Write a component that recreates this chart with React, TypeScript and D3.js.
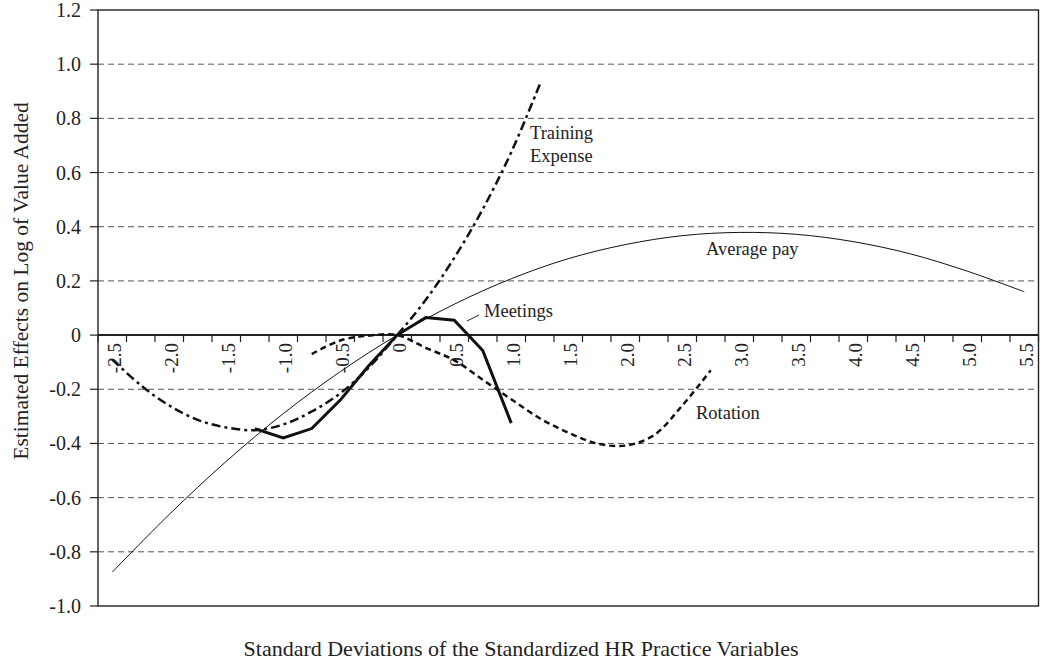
import React from "react";
import * as d3 from "d3";

const yTicks = [1.2, 1.0, 0.8, 0.6, 0.4, 0.2, 0, -0.2, -0.4, -0.6, -0.8, -1.0];
const yTickLabels = ["1.2", "1.0", "0.8", "0.6", "0.4", "0.2", "0", "-0.2", "-0.4", "-0.6", "-0.8", "-1.0"];
const xLabelVals = [-2.5, -2, -1.5, -1, -0.5, 0, 0.5, 1, 1.5, 2, 2.5, 3, 3.5, 4, 4.5, 5, 5.5];
const xTickLabels = ["-2.5", "-2.0", "-1.5", "-1.0", "-0.5", "0", "0.5", "1.0", "1.5", "2.0", "2.5", "3.0", "3.5", "4.0", "4.5", "5.0", "5.5"];

const avgPayX = [-2.5, -2, -1.5, -1, -0.5, 0, 0.5, 1, 1.5, 2, 2.5, 3, 3.5, 4, 4.5, 5, 5.5];
const avgPayY = [-0.875, -0.662, -0.466, -0.29, -0.135, 0, 0.114, 0.208, 0.282, 0.334, 0.367, 0.379, 0.372, 0.345, 0.3, 0.236, 0.16];

const trainX = [-2.5, -2.25, -2, -1.75, -1.5, -1.25, -1, -0.75, -0.5, -0.25, 0, 0.25, 0.5, 0.75, 1, 1.25];
const trainY = [-0.09, -0.185, -0.26, -0.313, -0.341, -0.351, -0.33, -0.282, -0.215, -0.12, 0, 0.13, 0.285, 0.465, 0.675, 0.925];

const rotX = [-0.75, -0.5, -0.25, 0, 0.25, 0.5, 0.75, 1, 1.25, 1.5, 1.75, 2, 2.25, 2.5, 2.75];
const rotY = [-0.07, -0.02, -0.002, 0, -0.047, -0.093, -0.165, -0.237, -0.307, -0.36, -0.4, -0.408, -0.37, -0.26, -0.13];

const meetX = [-1.25, -1, -0.75, -0.5, -0.25, 0, 0.25, 0.5, 0.75, 1];
const meetY = [-0.345, -0.38, -0.345, -0.24, -0.113, 0, 0.065, 0.055, -0.057, -0.325];

const W = 1044;
const H = 662;
const left = 98;
const right = 1038.5;
const top = 10;
const bottom = 606;
const FONT = "'Liberation Serif', 'Times New Roman', serif";

export default function App() {
  const x = d3.scaleLinear().domain([-2.625, 5.625]).range([left, right]);
  const y = d3.scaleLinear().domain([-1, 1.2]).range([bottom, top]);
  const y0 = y(0);

  const mk = (xs: number[], ys: number[], curve: any) =>
    d3
      .line<number>()
      .x((_, i) => x(xs[i]))
      .y((d) => y(d))
      .curve(curve)(ys) || "";

  const boundaries = d3.range(0, 34).map((k) => -2.625 + 0.25 * k);

  return (
    <svg width={W} height={H} style={{ position: "absolute", left: 0, top: 0, background: "#fff" }}>
      <rect x={0} y={0} width={W} height={H} fill="#fff" />
      {/* gridlines */}
      {yTicks
        .filter((t) => t !== 0 && t !== 1.2 && t !== -1.0)
        .map((t) => (
          <line key={"g" + t} x1={left} x2={right} y1={y(t)} y2={y(t)} stroke="#555" strokeWidth={1} strokeDasharray="6,4" />
        ))}
      {/* y ticks */}
      {yTicks.map((t) => (
        <line key={"yt" + t} x1={left - 8} x2={left} y1={y(t)} y2={y(t)} stroke="#222" strokeWidth={1.2} />
      ))}
      {yTicks.map((t, i) => (
        <text key={"yl" + t} x={81} y={y(t)} dy="0.35em" textAnchor="end" fontFamily={FONT} fontSize={20} fill="#222">
          {yTickLabels[i]}
        </text>
      ))}
      {/* border */}
      <rect x={left} y={top} width={right - left} height={bottom - top} fill="none" stroke="#222" strokeWidth={1.4} />
      {/* zero axis */}
      <line x1={left} x2={right} y1={y0} y2={y0} stroke="#222" strokeWidth={2} />
      {boundaries.map((b, i) => (
        <line key={"xt" + i} x1={x(b)} x2={x(b)} y1={y0} y2={y0 + 7} stroke="#222" strokeWidth={1.2} />
      ))}
      {xLabelVals.map((v, i) => (
        <text
          key={"xl" + i}
          transform={`translate(${x(v) + 2},${y0 + 8}) rotate(-90)`}
          textAnchor="end"
          dy="0.35em"
          fontFamily={FONT}
          fontSize={19}
          fill="#222"
        >
          {xTickLabels[i]}
        </text>
      ))}
      {/* series */}
      <path d={mk(avgPayX, avgPayY, d3.curveCatmullRom)} fill="none" stroke="#111" strokeWidth={1} />
      <path d={mk(trainX, trainY, d3.curveCatmullRom)} fill="none" stroke="#111" strokeWidth={2.5} strokeDasharray="9,4,3,4" />
      <path d={mk(rotX, rotY, d3.curveCatmullRom)} fill="none" stroke="#111" strokeWidth={2.5} strokeDasharray="6,4" />
      <path d={mk(meetX, meetY, d3.curveLinear)} fill="none" stroke="#111" strokeWidth={3} strokeLinejoin="miter" />
      {/* series labels */}
      <text x={530} y={139} fontFamily={FONT} fontSize={18.5} fill="#222">Training</text>
      <text x={530} y={161.5} fontFamily={FONT} fontSize={18.5} fill="#222">Expense</text>
      <text x={706} y={255} fontFamily={FONT} fontSize={18.5} fill="#222">Average pay</text>
      <text x={484} y={317} fontFamily={FONT} fontSize={18.5} fill="#222">Meetings</text>
      <line x1={467} y1={321} x2={479} y2={315} stroke="#222" strokeWidth={1} />
      <text x={696} y={419} fontFamily={FONT} fontSize={18.5} fill="#222">Rotation</text>
      {/* axis titles */}
      <text
        transform={`translate(28,281) rotate(-90)`}
        textAnchor="middle"
        fontFamily={FONT}
        fontSize={21.5}
        fill="#222"
      >
        Estimated Effects on Log of Value Added
      </text>
      <text x={521} y={656} textAnchor="middle" fontFamily={FONT} fontSize={22} fill="#222">
        Standard Deviations of the Standardized HR Practice Variables
      </text>
    </svg>
  );
}
